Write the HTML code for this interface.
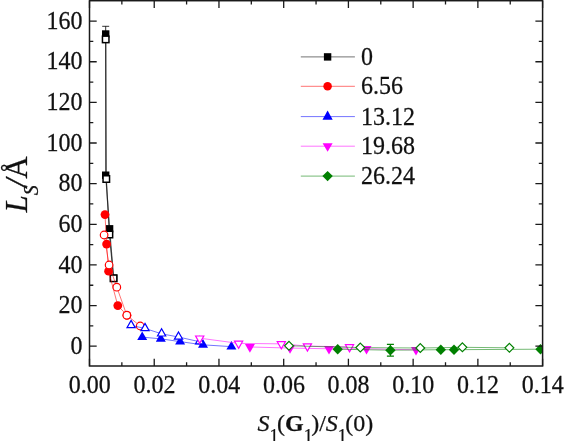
<!DOCTYPE html>
<html><head><meta charset="utf-8"><style>
html,body{margin:0;padding:0;background:#fff;width:564px;height:441px;overflow:hidden}
svg{display:block;will-change:transform}
text{font-family:"Liberation Serif",serif;stroke:#111;stroke-width:0.25px}
</style></head><body>
<svg width="564" height="441" viewBox="0 0 564 441">
<defs><clipPath id="pc"><rect x="89.5" y="0.7" width="453.1" height="365.3"/></clipPath></defs>
<g clip-path="url(#pc)">
<polyline points="105.7,34 105.7,175.2 109.6,228.8 113.6,278.2" fill="none" stroke="#000000" stroke-width="1.2" stroke-opacity="0.6" stroke-linejoin="round"/>
<path d="M105.7,26.3V41.7M102.2,26.3H109.2M102.2,41.7H109.2" stroke="#000" stroke-width="1" stroke-opacity="0.8" fill="none"/>
<rect x="102" y="30.3" width="7.4" height="7.4" fill="#000000"/>
<rect x="102" y="171.5" width="7.4" height="7.4" fill="#000000"/>
<rect x="105.9" y="225.1" width="7.4" height="7.4" fill="#000000"/>
<rect x="109.9" y="274.5" width="7.4" height="7.4" fill="#000000"/>
<polyline points="105.7,39.4 106.3,179 109.4,234.5 113.6,278.3" fill="none" stroke="#000000" stroke-width="1.2" stroke-opacity="0.6" stroke-linejoin="round"/>
<rect x="102.45" y="36.15" width="6.5" height="6.5" fill="#fff" stroke="#000000" stroke-width="1.5"/>
<rect x="103.05" y="175.75" width="6.5" height="6.5" fill="#fff" stroke="#000000" stroke-width="1.5"/>
<rect x="106.15" y="231.25" width="6.5" height="6.5" fill="#fff" stroke="#000000" stroke-width="1.5"/>
<rect x="110.35" y="275.05" width="6.5" height="6.5" fill="#fff" stroke="#000000" stroke-width="1.5"/>
<polyline points="105,214.6 106.6,244.1 108.6,271.2 117.8,305.6 127,315.3" fill="none" stroke="#ff0000" stroke-width="1.0" stroke-opacity="0.55" stroke-linejoin="round"/>
<circle cx="105" cy="214.6" r="4.4" fill="#ff0000"/>
<circle cx="106.6" cy="244.1" r="4.4" fill="#ff0000"/>
<circle cx="108.6" cy="271.2" r="4.4" fill="#ff0000"/>
<circle cx="117.8" cy="305.6" r="4.4" fill="#ff0000"/>
<circle cx="127" cy="315.3" r="4.4" fill="#ff0000"/>
<polyline points="104.1,235 109.1,265 116.8,287.2 126.8,315.2 140.2,326" fill="none" stroke="#ff0000" stroke-width="1.0" stroke-opacity="0.55" stroke-linejoin="round"/>
<circle cx="104.1" cy="235" r="3.8" fill="#fff" stroke="#ff0000" stroke-width="1.2"/>
<circle cx="109.1" cy="265" r="3.8" fill="#fff" stroke="#ff0000" stroke-width="1.2"/>
<circle cx="116.8" cy="287.2" r="3.8" fill="#fff" stroke="#ff0000" stroke-width="1.2"/>
<circle cx="126.8" cy="315.2" r="3.8" fill="#fff" stroke="#ff0000" stroke-width="1.2"/>
<circle cx="140.2" cy="326" r="3.8" fill="#fff" stroke="#ff0000" stroke-width="1.2"/>
<polyline points="142.2,337.13 160.8,338.83 180.1,341.63 203,344.83 231.4,346.63" fill="none" stroke="#0000ff" stroke-width="1.0" stroke-opacity="0.55" stroke-linejoin="round"/>
<polygon points="142.2,331.4 147.2,340 137.2,340" fill="#0000ff"/>
<polygon points="160.8,333.1 165.8,341.7 155.8,341.7" fill="#0000ff"/>
<polygon points="180.1,335.9 185.1,344.5 175.1,344.5" fill="#0000ff"/>
<polygon points="203,339.1 208,347.7 198,347.7" fill="#0000ff"/>
<polygon points="231.4,340.9 236.4,349.5 226.4,349.5" fill="#0000ff"/>
<polyline points="131.1,325.43 145,328.43 161.6,333.83 178.5,337.03 199.6,341.73" fill="none" stroke="#0000ff" stroke-width="1.0" stroke-opacity="0.55" stroke-linejoin="round"/>
<polygon points="131.1,320.4 135.2,327.6 127,327.6" fill="#fff" stroke="#0000ff" stroke-width="1.2" stroke-linejoin="miter"/>
<polygon points="145,323.4 149.1,330.6 140.9,330.6" fill="#fff" stroke="#0000ff" stroke-width="1.2" stroke-linejoin="miter"/>
<polygon points="161.6,328.8 165.7,336 157.5,336" fill="#fff" stroke="#0000ff" stroke-width="1.2" stroke-linejoin="miter"/>
<polygon points="178.5,332 182.6,339.2 174.4,339.2" fill="#fff" stroke="#0000ff" stroke-width="1.2" stroke-linejoin="miter"/>
<polygon points="199.6,336.7 203.7,343.9 195.5,343.9" fill="#fff" stroke="#0000ff" stroke-width="1.2" stroke-linejoin="miter"/>
<polyline points="249.9,346.97 290,348.07 329,348.77 366.5,348.77 416,349.87" fill="none" stroke="#ff00ff" stroke-width="1.0" stroke-opacity="0.55" stroke-linejoin="round"/>
<polygon points="249.9,352.7 254.9,344.1 244.9,344.1" fill="#ff00ff"/>
<polygon points="290,353.8 295,345.2 285,345.2" fill="#ff00ff"/>
<polygon points="329,354.5 334,345.9 324,345.9" fill="#ff00ff"/>
<polygon points="366.5,354.5 371.5,345.9 361.5,345.9" fill="#ff00ff"/>
<polygon points="416,355.6 421,347 411,347" fill="#ff00ff"/>
<polyline points="199.7,338.17 238.6,343.37 281.3,343.87 307.4,346.07 349.5,346.87" fill="none" stroke="#ff00ff" stroke-width="1.0" stroke-opacity="0.55" stroke-linejoin="round"/>
<polygon points="199.7,343.2 203.8,336 195.6,336" fill="#fff" stroke="#ff00ff" stroke-width="1.2" stroke-linejoin="miter"/>
<polygon points="238.6,348.4 242.7,341.2 234.5,341.2" fill="#fff" stroke="#ff00ff" stroke-width="1.2" stroke-linejoin="miter"/>
<polygon points="281.3,348.9 285.4,341.7 277.2,341.7" fill="#fff" stroke="#ff00ff" stroke-width="1.2" stroke-linejoin="miter"/>
<polygon points="307.4,351.1 311.5,343.9 303.3,343.9" fill="#fff" stroke="#ff00ff" stroke-width="1.2" stroke-linejoin="miter"/>
<polygon points="349.5,351.9 353.6,344.7 345.4,344.7" fill="#fff" stroke="#ff00ff" stroke-width="1.2" stroke-linejoin="miter"/>
<polyline points="337.7,349.2 390.4,350.2 440.8,349.7 454,349.7 540.5,349.2" fill="none" stroke="#008000" stroke-width="1.0" stroke-opacity="0.55" stroke-linejoin="round"/>
<path d="M390.4,344.4V356.1M386.9,344.4H393.9M386.9,356.1H393.9" stroke="#008000" stroke-width="1.1" fill="none"/>
<polygon points="337.7,344 342.9,349.2 337.7,354.4 332.5,349.2" fill="#008000"/>
<polygon points="390.4,345 395.6,350.2 390.4,355.4 385.2,350.2" fill="#008000"/>
<polygon points="440.8,344.5 446,349.7 440.8,354.9 435.6,349.7" fill="#008000"/>
<polygon points="454,344.5 459.2,349.7 454,354.9 448.8,349.7" fill="#008000"/>
<polygon points="540.5,344 545.7,349.2 540.5,354.4 535.3,349.2" fill="#008000"/>
<polyline points="289,345.8 360.3,347.6 420.3,348 462.4,347.3 509.4,347.8" fill="none" stroke="#008000" stroke-width="1.0" stroke-opacity="0.55" stroke-linejoin="round"/>
<polygon points="289,341.4 293.4,345.8 289,350.2 284.6,345.8" fill="#fff" stroke="#008000" stroke-width="1.2"/>
<polygon points="360.3,343.2 364.7,347.6 360.3,352 355.9,347.6" fill="#fff" stroke="#008000" stroke-width="1.2"/>
<polygon points="420.3,343.6 424.7,348 420.3,352.4 415.9,348" fill="#fff" stroke="#008000" stroke-width="1.2"/>
<polygon points="462.4,342.9 466.8,347.3 462.4,351.7 458,347.3" fill="#fff" stroke="#008000" stroke-width="1.2"/>
<polygon points="509.4,343.4 513.8,347.8 509.4,352.2 505,347.8" fill="#fff" stroke="#008000" stroke-width="1.2"/>
</g>
<path d="M89.5,366V358.8M89.5,0.7V7.9M121.86,366V362.2M121.86,0.7V4.5M154.23,366V358.8M154.23,0.7V7.9M186.59,366V362.2M186.59,0.7V4.5M218.96,366V358.8M218.96,0.7V7.9M251.32,366V362.2M251.32,0.7V4.5M283.69,366V358.8M283.69,0.7V7.9M316.05,366V362.2M316.05,0.7V4.5M348.41,366V358.8M348.41,0.7V7.9M380.78,366V362.2M380.78,0.7V4.5M413.14,366V358.8M413.14,0.7V7.9M445.51,366V362.2M445.51,0.7V4.5M477.87,366V358.8M477.87,0.7V7.9M510.24,366V362.2M510.24,0.7V4.5M542.6,366V358.8M542.6,0.7V7.9M89.5,346.2H96.7M542.6,346.2H535.4M89.5,325.88H93.3M542.6,325.88H538.8M89.5,305.56H96.7M542.6,305.56H535.4M89.5,285.24H93.3M542.6,285.24H538.8M89.5,264.93H96.7M542.6,264.93H535.4M89.5,244.61H93.3M542.6,244.61H538.8M89.5,224.29H96.7M542.6,224.29H535.4M89.5,203.97H93.3M542.6,203.97H538.8M89.5,183.65H96.7M542.6,183.65H535.4M89.5,163.33H93.3M542.6,163.33H538.8M89.5,143.01H96.7M542.6,143.01H535.4M89.5,122.69H93.3M542.6,122.69H538.8M89.5,102.38H96.7M542.6,102.38H535.4M89.5,82.06H93.3M542.6,82.06H538.8M89.5,61.74H96.7M542.6,61.74H535.4M89.5,41.42H93.3M542.6,41.42H538.8M89.5,21.1H96.7M542.6,21.1H535.4" stroke="#1a1a1a" stroke-width="1.3" fill="none"/>
<rect x="89.5" y="0.7" width="453.1" height="365.3" fill="none" stroke="#1a1a1a" stroke-width="1.5"/>
<g font-family="Liberation Serif" font-size="24" fill="#111">
<text transform="translate(89.7,393.4) scale(1,1.025)" text-anchor="middle">0.00</text>
<text transform="translate(154.43,393.4) scale(1,1.025)" text-anchor="middle">0.02</text>
<text transform="translate(219.16,393.4) scale(1,1.025)" text-anchor="middle">0.04</text>
<text transform="translate(283.89,393.4) scale(1,1.025)" text-anchor="middle">0.06</text>
<text transform="translate(348.61,393.4) scale(1,1.025)" text-anchor="middle">0.08</text>
<text transform="translate(413.34,393.4) scale(1,1.025)" text-anchor="middle">0.10</text>
<text transform="translate(478.07,393.4) scale(1,1.025)" text-anchor="middle">0.12</text>
<text transform="translate(542.8,393.4) scale(1,1.025)" text-anchor="middle">0.14</text>
<text transform="translate(82.6,353.9) scale(1,1.025)" text-anchor="end">0</text>
<text transform="translate(82.6,313.26) scale(1,1.025)" text-anchor="end">20</text>
<text transform="translate(82.6,272.62) scale(1,1.025)" text-anchor="end">40</text>
<text transform="translate(82.6,231.99) scale(1,1.025)" text-anchor="end">60</text>
<text transform="translate(82.6,191.35) scale(1,1.025)" text-anchor="end">80</text>
<text transform="translate(82.6,150.71) scale(1,1.025)" text-anchor="end">100</text>
<text transform="translate(82.6,110.08) scale(1,1.025)" text-anchor="end">120</text>
<text transform="translate(82.6,69.44) scale(1,1.025)" text-anchor="end">140</text>
<text transform="translate(82.6,28.8) scale(1,1.025)" text-anchor="end">160</text>
</g>
<line x1="300.8" y1="56.9" x2="354.9" y2="56.9" stroke="#000000" stroke-width="1" stroke-opacity="0.55"/>
<rect x="323.9" y="53.2" width="7.4" height="7.4" fill="#000000"/>
<text transform="translate(361,65) scale(1,1.025)" font-family="Liberation Serif" font-size="24" fill="#111">0</text>
<line x1="300.8" y1="86.3" x2="354.9" y2="86.3" stroke="#ff0000" stroke-width="1" stroke-opacity="0.55"/>
<circle cx="327.6" cy="86.3" r="4.25" fill="#ff0000"/>
<text transform="translate(361,94.4) scale(1,1.025)" font-family="Liberation Serif" font-size="24" fill="#111">6.56</text>
<line x1="300.8" y1="116.6" x2="354.9" y2="116.6" stroke="#0000ff" stroke-width="1" stroke-opacity="0.55"/>
<polygon points="327.6,110.53 332.7,119.63 322.5,119.63" fill="#0000ff"/>
<text transform="translate(361,124.7) scale(1,1.025)" font-family="Liberation Serif" font-size="24" fill="#111">13.12</text>
<line x1="300.8" y1="146.2" x2="354.9" y2="146.2" stroke="#ff00ff" stroke-width="1" stroke-opacity="0.55"/>
<polygon points="327.6,151.87 332.6,143.37 322.6,143.37" fill="#ff00ff"/>
<text transform="translate(361,154.3) scale(1,1.025)" font-family="Liberation Serif" font-size="24" fill="#111">19.68</text>
<line x1="300.8" y1="176.1" x2="354.9" y2="176.1" stroke="#008000" stroke-width="1" stroke-opacity="0.55"/>
<polygon points="327.6,170.9 332.8,176.1 327.6,181.3 322.4,176.1" fill="#008000"/>
<text transform="translate(361,184.2) scale(1,1.025)" font-family="Liberation Serif" font-size="24" fill="#111">26.24</text>
<text x="257.5" y="431.3" font-family="Liberation Serif" font-size="24" fill="#111"><tspan font-style="italic">S</tspan><tspan font-size="18" dy="10.5">1</tspan><tspan dy="-10.5" dx="-1.5">(</tspan><tspan font-weight="bold">G</tspan><tspan font-size="18" dy="10.5">1</tspan><tspan dy="-10.5" dx="-1.5">)/</tspan><tspan font-style="italic">S</tspan><tspan font-size="18" dy="10.5">1</tspan><tspan dy="-10.5" dx="-1.5">(0)</tspan></text>
<text transform="translate(26.6,212.5) rotate(-90)" font-family="Liberation Serif" font-size="31" fill="#111"><tspan font-style="italic">L</tspan><tspan font-style="italic" font-size="20" dy="11">S</tspan><tspan dy="-11" dx="-2" font-style="italic">/</tspan><tspan>Å</tspan></text>
</svg>
</body></html>
